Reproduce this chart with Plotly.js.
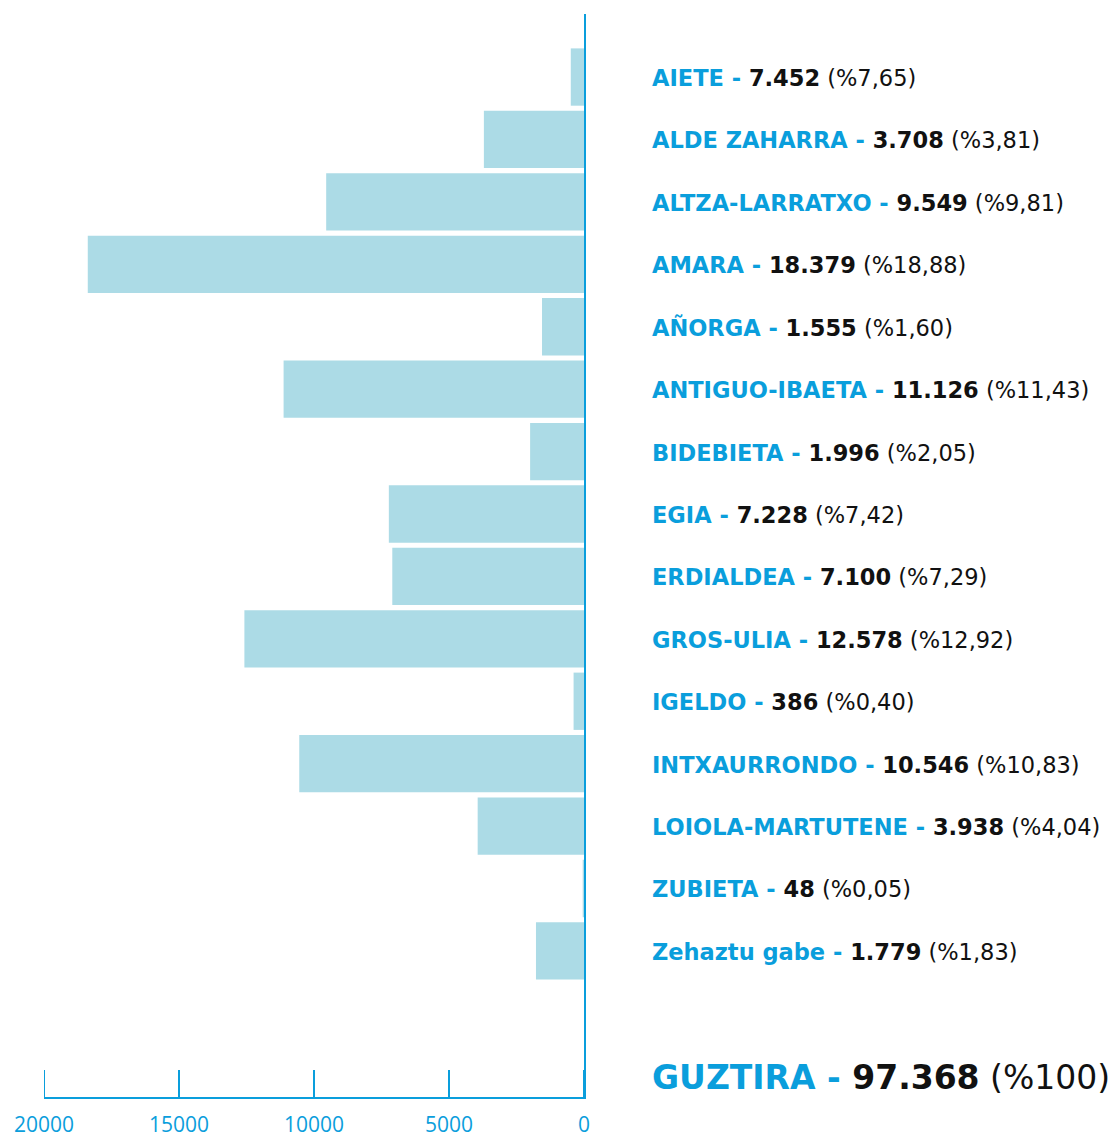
<!DOCTYPE html>
<html><head><meta charset="utf-8">
<script src="https://cdn.plot.ly/plotly-3.0.1.min.js"></script>
<style>html,body{margin:0;padding:0;background:#fff}</style>
</head><body><div id="chart" style="width:1119px;height:1137px"></div>
<script>
var categories = ["AIETE","ALDE ZAHARRA","ALTZA-LARRATXO","AMARA","AÑORGA","ANTIGUO-IBAETA","BIDEBIETA","EGIA","ERDIALDEA","GROS-ULIA","IGELDO","INTXAURRONDO","LOIOLA-MARTUTENE","ZUBIETA","Zehaztu gabe"];
var barValues = [490, 3708, 9549, 18379, 1555, 11126, 1996, 7228, 7100, 12578, 386, 10546, 3938, 48, 1779];
var valueLabels = ["7.452","3.708","9.549","18.379","1.555","11.126","1.996","7.228","7.100","12.578","386","10.546","3.938","48","1.779"];
var percentLabels = ["%7,65","%3,81","%9,81","%18,88","%1,60","%11,43","%2,05","%7,42","%7,29","%12,92","%0,40","%10,83","%4,04","%0,05","%1,83"];
var totalName = "GUZTIRA";
var totalValue = "97.368";
var totalPercent = "%100";
var tickVals = [0, 5000, 10000, 15000, 20000];
var tickText = ["0","5000","10000","15000","20000"];

var BLUE = "#0a9edc";
var BAR = "#acdbe6";
var FONT = "'DejaVu Sans', sans-serif";

var idx = categories.map(function(_, i){ return i; });

var trace = {
  type: "bar", orientation: "h",
  x: barValues, y: idx, width: 0.918,
  marker: {color: BAR, line: {width: 0}},
  hoverinfo: "skip"
};

function label(name, val, pct){
  return "<span style='color:" + BLUE + "'><b>" + name + " - </b></span>" +
         "<span style='color:#111'><b>" + val + "</b> (" + pct + ")</span>";
}

var LX = (650 - 44) / 540;
var annotations = categories.map(function(c, i){
  return {
    xref: "paper", yref: "y", x: LX, y: i + 0.015, xanchor: "left", yanchor: "middle",
    text: label(c, valueLabels[i], percentLabels[i]), showarrow: false,
    font: {family: FONT, size: 22.5, color: "#111"}
  };
});
annotations.push({
  xref: "paper", yref: "y", x: LX, y: 16.02, xanchor: "left", yanchor: "middle",
  text: label(totalName, totalValue, totalPercent), showarrow: false,
  font: {family: FONT, size: 33, color: "#111"}
});

var shapes = tickVals.map(function(v){
  return {type: "line", xref: "x", yref: "paper", x0: v, x1: v, y0: 0, y1: 27 / 1083,
          line: {color: BLUE, width: 2}, layer: "below"};
});

var layout = {
  width: 1119, height: 1137,
  margin: {l: 44, r: 535, t: 14, b: 40, pad: 0},
  paper_bgcolor: "#fff", plot_bgcolor: "#fff",
  showlegend: false,
  xaxis: {
    range: [20000, 0], tickvals: tickVals, ticktext: tickText,
    ticks: "", showline: true, linecolor: BLUE, linewidth: 2,
    showgrid: false, zeroline: false,
    tickfont: {family: "'Liberation Sans Narrow', 'Open Sans', sans-serif", size: 21, color: BLUE},
    ticklabelstandoff: 8,
    layer: "below traces", fixedrange: true
  },
  yaxis: {
    range: [16.34, -1.01], side: "right",
    showline: true, linecolor: BLUE, linewidth: 2,
    showticklabels: false, ticks: "", showgrid: false, zeroline: false,
    layer: "below traces", fixedrange: true
  },
  shapes: shapes,
  annotations: annotations
};

Plotly.newPlot("chart", [trace], layout, {displayModeBar: false, staticPlot: true});
</script></body></html>
